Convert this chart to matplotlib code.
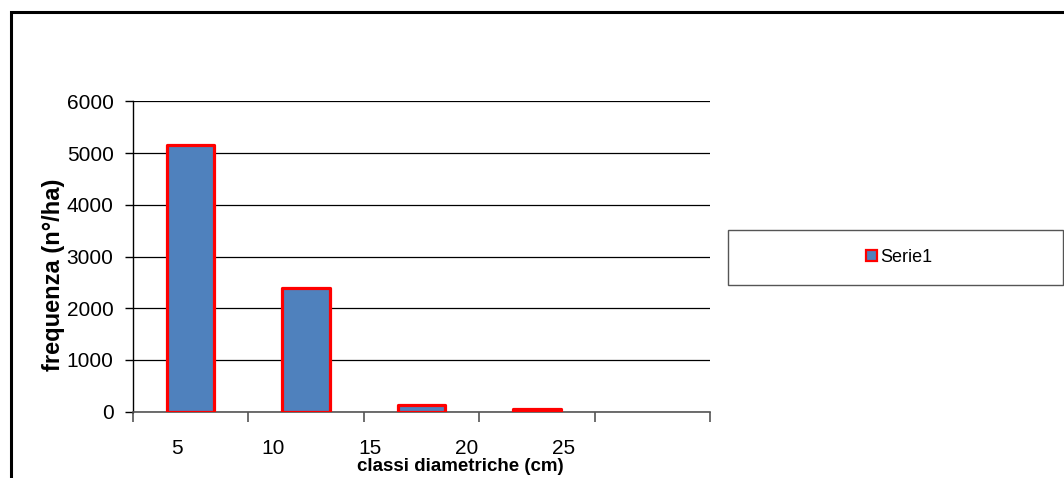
import numpy as np
import matplotlib.pyplot as plt
from matplotlib.patches import Rectangle, Patch

# dati
classi = ['5', '10', '15', '20', '25']
frequenza = [5150, 2400, 120, 60, 0]
serie = 'Serie1'

plt.rcParams['font.family'] = ['Liberation Sans', 'DejaVu Sans']

W, H = 1064, 478
fig = plt.figure(figsize=(W / 100, H / 100), dpi=100)

# cornice esterna (continua oltre il bordo destro e inferiore)
fig.patches.append(Rectangle((10.5 / W, -0.1), 1.2, 1 - 12 / H + 0.1, transform=fig.transFigure,
                             fill=False, edgecolor='black', linewidth=2.2))

ax = fig.add_axes([133 / W, 1 - 411.7 / H, 577 / W, 310.4 / H])
x = np.arange(len(classi))
# le barre a zero non mostrano il bordo
lw = [2.3 if v > 0 else 0 for v in frequenza]
ax.bar(x, frequenza, width=0.41, color='#4F81BD', edgecolor='#FF0000', linewidth=lw,
       joinstyle='round', zorder=3)

ax.set_xlim(-0.5, len(classi) - 0.5)
ax.set_ylim(0, 6000)
ax.set_yticks(np.arange(0, 6001, 1000))
ax.yaxis.grid(True, color='black', linewidth=0.9, zorder=0)
ax.tick_params(axis='y', direction='out', length=6, width=1, labelsize=15, pad=8)

# tacche tra le categorie, etichette come nel grafico originale
ax.set_xticks(np.arange(len(classi) + 1) - 0.5)
ax.set_xticklabels([])
ax.tick_params(axis='x', which='major', direction='out', length=7, width=1.2, color='#555555')
ax.set_xticks(np.arange(len(classi)) * 0.838 - 0.12, minor=True)
ax.set_xticklabels(classi, minor=True)
ax.tick_params(axis='x', which='minor', length=0, labelsize=15, pad=20)

for s in ['top', 'right']:
    ax.spines[s].set_visible(False)
ax.spines['left'].set_linewidth(1.0)
ax.spines['bottom'].set_linewidth(1.2)
ax.spines['bottom'].set_color('#555555')

ax.set_ylabel('frequenza (n°/ha)', fontsize=17, fontweight='bold')
ax.yaxis.set_label_coords(-0.118, 0.44)
ax.set_xlabel('classi diametriche (cm)', fontsize=13.5, fontweight='bold')
ax.xaxis.set_label_coords(0.567, -0.15)

# legenda
lx0, ly0, lx1, ly1 = 728, 230, 1063, 285
fig.patches.append(Rectangle((lx0 / W, 1 - ly1 / H), (lx1 - lx0) / W, (ly1 - ly0) / H,
                             transform=fig.transFigure, fill=False, edgecolor='#555555', linewidth=1.0))
handle = Patch(facecolor='#4F81BD', edgecolor='#FF0000', linewidth=1.6)
fig.legend([handle], [serie], loc='center', bbox_to_anchor=((lx0 + lx1) / 2 / W + 4 / W, 1 - (ly0 + ly1) / 2 / H),
           frameon=False, fontsize=13, handlelength=0.6, handleheight=0.6, handletextpad=0.2)

fig.savefig('out.png', dpi=100)
